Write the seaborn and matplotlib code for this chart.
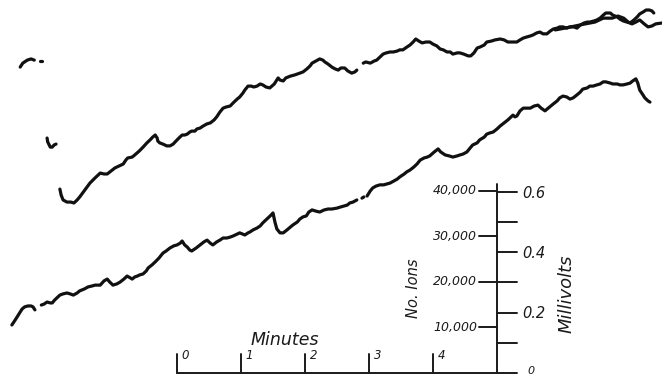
import matplotlib
matplotlib.use("Agg")
import matplotlib.pyplot as plt
import pandas as pd
import seaborn as sns

# ---- recorder traces: time in minutes, potential in millivolts ----
upper_a_t = [-2.45, -2.41, -2.34, -2.28, -2.23]
upper_a_mv = [1.013, 1.026, 1.036, 1.040, 1.036]
upper_b_t = [-2.14, -2.11]
upper_b_mv = [1.033, 1.033]
upper_c_t = [-2.03, -2.02, -1.98, -1.95, -1.92, -1.89]
upper_c_mv = [0.778, 0.765, 0.748, 0.748, 0.755, 0.758]
upper_d_t = [-1.83, -1.81, -1.78, -1.72, -1.66, -1.61, -1.56, -1.52, -1.44, -1.36,
             -1.28, -1.20, -1.14, -1.09, -1.03, -0.97, -0.91, -0.84, -0.80, -0.77,
             -0.70, -0.66, -0.59, -0.53, -0.47, -0.42, -0.38, -0.34, -0.31, -0.30,
             -0.27, -0.22, -0.16, -0.11, -0.06, -0.03, 0.03, 0.08, 0.12, 0.16,
             0.20, 0.23, 0.28, 0.31, 0.36, 0.41, 0.47, 0.52, 0.58, 0.62,
             0.67, 0.72, 0.77, 0.83, 0.89, 0.94, 0.98, 1.03, 1.06, 1.11,
             1.16, 1.20, 1.25, 1.30, 1.34, 1.39, 1.45, 1.52, 1.58, 1.61,
             1.66, 1.70, 1.77, 1.84, 1.92, 1.97, 2.03, 2.08, 2.11, 2.17,
             2.23, 2.28, 2.31, 2.36, 2.42, 2.47, 2.52, 2.56, 2.62, 2.67,
             2.73, 2.78, 2.81]
upper_d_mv = [0.609, 0.589, 0.573, 0.566, 0.566, 0.563, 0.573, 0.583, 0.606, 0.629,
              0.646, 0.662, 0.659, 0.659, 0.669, 0.679, 0.685, 0.692, 0.705, 0.712,
              0.715, 0.722, 0.735, 0.748, 0.762, 0.772, 0.781, 0.788, 0.778, 0.768,
              0.762, 0.758, 0.752, 0.752, 0.758, 0.765, 0.778, 0.788, 0.788, 0.791,
              0.798, 0.801, 0.801, 0.808, 0.811, 0.818, 0.825, 0.828, 0.838, 0.848,
              0.864, 0.877, 0.881, 0.884, 0.897, 0.907, 0.914, 0.927, 0.937, 0.950,
              0.950, 0.947, 0.950, 0.957, 0.954, 0.947, 0.944, 0.957, 0.977, 0.970,
              0.967, 0.977, 0.983, 0.987, 0.993, 0.997, 1.007, 1.017, 1.026, 1.033,
              1.040, 1.036, 1.030, 1.023, 1.013, 1.007, 1.003, 1.010, 1.010, 1.000,
              0.993, 0.997, 1.003]
upper_e_t = [2.91, 2.95, 3.02, 3.08, 3.12, 3.17, 3.22, 3.27, 3.33, 3.38,
             3.44, 3.48, 3.53, 3.59, 3.64, 3.69, 3.73, 3.78, 3.83, 3.89,
             3.95, 4.00, 4.06, 4.11, 4.16, 4.22, 4.27, 4.31, 4.38, 4.42,
             4.48, 4.55, 4.59, 4.64, 4.69, 4.73, 4.80, 4.84, 4.91, 4.97,
             5.05, 5.11, 5.17, 5.25, 5.31, 5.36, 5.41, 5.47, 5.52, 5.56,
             5.62, 5.67, 5.72, 5.78, 5.83, 5.88, 5.94, 5.98, 6.03, 6.09,
             6.14, 6.20, 6.25, 6.30, 6.36, 6.41, 6.45, 6.52, 6.56, 6.61,
             6.66, 6.70, 6.77, 6.81, 6.88, 6.92, 6.97, 7.03, 7.08, 7.14,
             7.19, 7.23, 7.28, 7.33, 7.38, 7.42, 7.45]
upper_e_mv = [1.026, 1.030, 1.026, 1.033, 1.036, 1.046, 1.056, 1.060, 1.063, 1.063,
              1.066, 1.070, 1.070, 1.079, 1.086, 1.096, 1.106, 1.099, 1.093, 1.096,
              1.096, 1.089, 1.083, 1.073, 1.070, 1.063, 1.063, 1.056, 1.060, 1.060,
              1.056, 1.050, 1.050, 1.060, 1.076, 1.079, 1.086, 1.096, 1.099, 1.103,
              1.106, 1.103, 1.096, 1.096, 1.096, 1.103, 1.109, 1.113, 1.116, 1.119,
              1.126, 1.129, 1.123, 1.123, 1.132, 1.139, 1.142, 1.146, 1.146, 1.142,
              1.146, 1.146, 1.142, 1.152, 1.159, 1.162, 1.162, 1.166, 1.169, 1.175,
              1.185, 1.192, 1.192, 1.185, 1.179, 1.172, 1.166, 1.162, 1.159, 1.169,
              1.179, 1.189, 1.195, 1.202, 1.202, 1.199, 1.192]
# second pen pass over the end of the upper record
upper_f_t = [5.91, 6.06, 6.22, 6.38, 6.53, 6.66, 6.72, 6.80, 6.89, 6.98,
             7.05, 7.11, 7.17, 7.23, 7.30, 7.36, 7.42, 7.48, 7.58]
upper_f_mv = [1.136, 1.142, 1.149, 1.156, 1.162, 1.175, 1.175, 1.175, 1.182, 1.175,
              1.162, 1.156, 1.162, 1.169, 1.156, 1.146, 1.149, 1.156, 1.159]

lower_a_t = [-2.58, -2.53, -2.50, -2.45, -2.42, -2.38, -2.33, -2.28, -2.25, -2.22]
lower_a_mv = [0.159, 0.175, 0.185, 0.202, 0.212, 0.219, 0.222, 0.222, 0.219, 0.209]
lower_b_t = [-2.12, -2.08, -2.03, -1.98, -1.95, -1.91, -1.86, -1.83, -1.78, -1.72,
             -1.67, -1.62, -1.56, -1.52, -1.45, -1.39, -1.33, -1.28, -1.23, -1.20,
             -1.14, -1.09, -1.05, -1.00, -0.94, -0.89, -0.83, -0.78, -0.73, -0.70,
             -0.66, -0.62, -0.58, -0.53, -0.48, -0.45, -0.39, -0.34, -0.28, -0.22,
             -0.17, -0.11, -0.05, 0.00, 0.05, 0.08, 0.12, 0.16, 0.20, 0.23,
             0.30, 0.36, 0.42, 0.47, 0.52, 0.56, 0.62, 0.67, 0.72, 0.78,
             0.83, 0.88, 0.94, 0.98, 1.06, 1.11, 1.14, 1.19, 1.25, 1.30,
             1.34, 1.39, 1.44, 1.47, 1.50, 1.53, 1.56, 1.61, 1.66, 1.72,
             1.77, 1.81, 1.88, 1.92, 1.97, 2.02, 2.06, 2.11, 2.17, 2.23,
             2.30, 2.36, 2.42, 2.50, 2.56, 2.61, 2.66, 2.70, 2.75, 2.81]
lower_b_mv = [0.225, 0.228, 0.235, 0.232, 0.232, 0.242, 0.252, 0.258, 0.262, 0.265,
              0.262, 0.258, 0.265, 0.272, 0.278, 0.285, 0.288, 0.291, 0.291, 0.291,
              0.305, 0.311, 0.301, 0.291, 0.295, 0.301, 0.311, 0.321, 0.315, 0.311,
              0.318, 0.321, 0.325, 0.328, 0.338, 0.348, 0.358, 0.368, 0.381, 0.397,
              0.404, 0.414, 0.421, 0.424, 0.430, 0.437, 0.424, 0.417, 0.407, 0.404,
              0.414, 0.424, 0.434, 0.440, 0.430, 0.424, 0.434, 0.440, 0.447, 0.447,
              0.450, 0.454, 0.460, 0.464, 0.457, 0.464, 0.467, 0.474, 0.480, 0.487,
              0.497, 0.507, 0.517, 0.523, 0.530, 0.500, 0.477, 0.464, 0.464, 0.474,
              0.483, 0.490, 0.500, 0.510, 0.517, 0.520, 0.533, 0.540, 0.536, 0.533,
              0.540, 0.543, 0.543, 0.546, 0.550, 0.553, 0.556, 0.563, 0.566, 0.573]
lower_c_t = [2.89, 2.92]
lower_c_mv = [0.579, 0.583]
lower_d_t = [2.97, 3.02, 3.06, 3.11, 3.17, 3.23, 3.28, 3.33, 3.39, 3.44,
             3.48, 3.55, 3.59, 3.64, 3.70, 3.75, 3.80, 3.86, 3.91, 3.95,
             4.02, 4.08, 4.12, 4.19, 4.25, 4.31, 4.38, 4.42, 4.47, 4.53,
             4.58, 4.62, 4.69, 4.73, 4.80, 4.84, 4.89, 4.94, 5.00, 5.05,
             5.11, 5.17, 5.20, 5.25, 5.28, 5.31, 5.36, 5.41, 5.45, 5.52,
             5.58, 5.64, 5.69, 5.75, 5.80, 5.88, 5.94, 5.98, 6.03, 6.09,
             6.14, 6.19, 6.25, 6.30, 6.34, 6.41, 6.45, 6.50, 6.56, 6.61,
             6.66, 6.70, 6.77, 6.81, 6.88, 6.92, 6.97, 7.03, 7.08, 7.12,
             7.17, 7.20, 7.23, 7.28, 7.31, 7.36, 7.39]
lower_d_mv = [0.586, 0.603, 0.613, 0.619, 0.623, 0.623, 0.626, 0.629, 0.636, 0.642,
              0.649, 0.659, 0.666, 0.672, 0.682, 0.692, 0.705, 0.712, 0.715, 0.719,
              0.732, 0.742, 0.732, 0.722, 0.719, 0.715, 0.719, 0.722, 0.725, 0.732,
              0.745, 0.755, 0.762, 0.772, 0.781, 0.791, 0.795, 0.798, 0.808, 0.818,
              0.828, 0.838, 0.844, 0.854, 0.848, 0.851, 0.868, 0.877, 0.877, 0.877,
              0.884, 0.887, 0.877, 0.868, 0.877, 0.891, 0.901, 0.911, 0.917, 0.914,
              0.907, 0.911, 0.921, 0.930, 0.940, 0.944, 0.950, 0.950, 0.954, 0.957,
              0.964, 0.964, 0.960, 0.957, 0.957, 0.954, 0.954, 0.957, 0.960, 0.967,
              0.974, 0.960, 0.937, 0.921, 0.911, 0.901, 0.897]

# ---- scale bars ----
minute_ticks = [0, 1, 2, 3, 4]
minute_labels = ["0", "1", "2", "3", "4"]
scale_end_min = 5.0            # time at which the vertical scale stands
ion_ticks = [10000, 20000, 30000, 40000]
ion_labels = ["10,000", "20,000", "30,000", "40,000"]
mv_per_ion = 0.151 / 10000     # calibration between the two vertical scales
mv_ticks = [0.1, 0.2, 0.3, 0.4, 0.5, 0.6]
mv_labeled = [0.0, 0.2, 0.4, 0.6]
mv_label_text = ["0", "0.2", "0.4", "0.6"]

segments = [
    ("upper_a", upper_a_t, upper_a_mv), ("upper_b", upper_b_t, upper_b_mv),
    ("upper_c", upper_c_t, upper_c_mv), ("upper_d", upper_d_t, upper_d_mv),
    ("upper_e", upper_e_t, upper_e_mv), ("upper_f", upper_f_t, upper_f_mv),
    ("lower_a", lower_a_t, lower_a_mv), ("lower_b", lower_b_t, lower_b_mv),
    ("lower_c", lower_c_t, lower_c_mv), ("lower_d", lower_d_t, lower_d_mv),
]
traces = pd.concat(
    [pd.DataFrame({"minutes": t, "millivolts": v, "trace": name}) for name, t, v in segments],
    ignore_index=True,
)

sns.set_style("white")
plt.rcParams["font.family"] = ["DejaVu Sans"]

fig = plt.figure(figsize=(6.62, 3.79), dpi=100)
ax = fig.add_axes([0, 0, 1, 1])

sns.lineplot(data=traces, x="minutes", y="millivolts", units="trace", estimator=None,
             sort=False, color="#111111", linewidth=2.3, legend=False, ax=ax,
             solid_capstyle="round", solid_joinstyle="round")

ink = "#1a1a1a"
scale_lw = 1.4
tick_h = 0.062          # height of the minute ticks, mV
left_len = 0.28         # ion tick length, minutes
right_len = 0.31        # millivolt tick length, minutes

# horizontal time scale
ax.plot([0, scale_end_min + right_len], [0, 0], color=ink, lw=scale_lw)
for m, lab in zip(minute_ticks, minute_labels):
    ax.plot([m, m], [0, tick_h], color=ink, lw=scale_lw)
    ax.text(m + 0.07, 0.057, lab, ha="left", va="center", fontsize=8.5,
            style="italic", color=ink)
ax.text(1.69, 0.109, "Minutes", ha="center", va="center", fontsize=12.5,
        style="italic", color=ink)

# vertical scale: ions on the left, millivolts on the right
ax.plot([scale_end_min, scale_end_min], [0, 0.626], color=ink, lw=scale_lw)
for n, lab in zip(ion_ticks, ion_labels):
    y = n * mv_per_ion
    ax.plot([scale_end_min - left_len, scale_end_min], [y, y], color=ink, lw=scale_lw)
    ax.text(scale_end_min - left_len - 0.03, y, lab, ha="right", va="center",
            fontsize=9, style="italic", color=ink)
for v in mv_ticks:
    ax.plot([scale_end_min, scale_end_min + right_len], [v, v], color=ink, lw=scale_lw)
for v, lab in zip(mv_labeled, mv_label_text):
    if v == 0:
        ax.text(scale_end_min + right_len + 0.16, 0.006, lab, ha="left", va="center",
                fontsize=8, style="italic", color=ink)
    else:
        ax.text(scale_end_min + right_len + 0.08, v - 0.004, lab, ha="left",
                va="center", fontsize=10.5, style="italic", color=ink)
ax.text(3.69, 0.281, "No. Ions", rotation=90, ha="center", va="center",
        fontsize=10.5, style="italic", color=ink)
ax.text(6.09, 0.262, "Millivolts", rotation=90, ha="center", va="center",
        fontsize=13, style="italic", color=ink)

ax.set_xlim(-177 / 64, 485 / 64)
ax.set_ylim(-6 / 302, 373 / 302)
ax.axis("off")

fig.savefig("out.png", dpi=100)
